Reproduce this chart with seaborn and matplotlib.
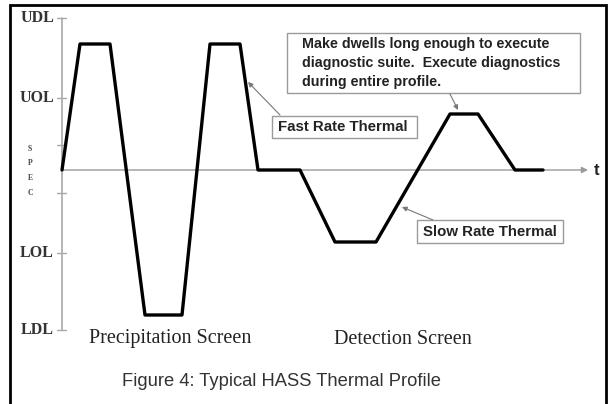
import numpy as np
import pandas as pd
import matplotlib
matplotlib.use('Agg')
import matplotlib.pyplot as plt
from matplotlib.patches import Rectangle
import seaborn as sns

# thermal profile (time in arbitrary units, temperature relative to spec)
time = [0, 18, 48, 83, 120, 148, 178, 196, 238, 273, 314, 388, 416, 453, 481]
temp = [0, 126, 126, -145, -145, 126, 126, 0, 0, -72, -72, 56, 56, 0, 0]

# limit levels on the temperature axis
level_names = ['UDL', 'UOL', 'LOL', 'LDL']
level_values = [152, 72, -83, -160]
spec_ticks = [25, -23]
spec_letters = ['S', 'P', 'E', 'C']

df = pd.DataFrame({'time': time, 'temp': temp})

sns.set_style('white')
plt.rcParams['font.family'] = ['Liberation Sans', 'DejaVu Sans']

fig = plt.figure(figsize=(6.10, 4.04), dpi=100)
ax = fig.add_axes([0, 0, 1, 1])
ax.set_xlim(-62, 548)
ax.set_ylim(-234, 170)
ax.axis('off')

# axes drawn by hand
ax.plot([0, 0], [level_values[0], level_values[-1]], color='#a8a8a8', lw=1.2, zorder=1)
ax.annotate('', xy=(526, 0), xytext=(0, 0),
            arrowprops=dict(arrowstyle='-|>', color='#9a9a9a', lw=1.0, mutation_scale=9,
                            shrinkA=0, shrinkB=0), zorder=1)
ax.text(532, 0, 't', fontsize=12, fontweight='bold', va='center', ha='left', color='#222222')

for name, v in zip(level_names, level_values):
    ax.plot([-5, 4], [v, v], color='#a8a8a8', lw=1.0)
    ax.text(-8, v, name, fontsize=11.5, fontweight='bold', family='Liberation Serif',
            ha='right', va='center', color='#333333')
for v in spec_ticks:
    ax.plot([-5, 4], [v, v], color='#a8a8a8', lw=1.0)
spec_y = [21, 7, -8, -23]
for letter, y in zip(spec_letters, spec_y):
    ax.text(-32, y, letter, fontsize=5.5, fontweight='bold', family='Liberation Serif',
            ha='center', va='center', color='#444444')

# the profile
sns.lineplot(data=df, x='time', y='temp', color='black', lw=2.4, ax=ax, zorder=3)

# phase labels
ax.text(108, -169, 'Precipitation Screen', fontsize=14.5, family='Liberation Serif',
        ha='center', va='center', color='#222222')
ax.text(341, -169, 'Detection Screen', fontsize=14.5, family='Liberation Serif',
        ha='center', va='center', color='#222222')

# call-out boxes
box_kw = dict(fill=True, facecolor='white', edgecolor='#9a9a9a', lw=1.0, zorder=4)
ax.add_patch(Rectangle((225, 77), 293, 60, **box_kw))
ax.text(240, 133, 'Make dwells long enough to execute\ndiagnostic suite.  Execute diagnostics\nduring entire profile.',
        fontsize=10.3, fontweight='bold', ha='left', va='top', linespacing=1.45,
        color='#222222', zorder=5)

ax.add_patch(Rectangle((210, 32), 145, 22, **box_kw))
ax.text(216, 43, 'Fast Rate Thermal', fontsize=10.8, fontweight='bold', ha='left',
        va='center', color='#222222', zorder=5)

ax.add_patch(Rectangle((355, -73), 146, 23, **box_kw))
ax.text(361, -62, 'Slow Rate Thermal', fontsize=10.8, fontweight='bold', ha='left',
        va='center', color='#222222', zorder=5)

arrow_kw = dict(arrowstyle='-|>', color='#777777', lw=0.8, mutation_scale=7,
                shrinkA=0, shrinkB=0)
ax.annotate('', xy=(396, 60), xytext=(388, 76), arrowprops=arrow_kw, zorder=4)
ax.annotate('', xy=(186, 88), xytext=(218, 55), arrowprops=arrow_kw, zorder=4)
ax.annotate('', xy=(340, -37), xytext=(371, -50), arrowprops=arrow_kw, zorder=4)

# caption
ax.text(219, -211, 'Figure 4: Typical HASS Thermal Profile', fontsize=13.2,
        ha='center', va='center', color='#333333')

# outer frame
fig.add_artist(Rectangle((10 / 610, -0.02), 596 / 610, 1.02 - 5 / 404,
                         transform=fig.transFigure, fill=False, edgecolor='black', lw=2.0))

fig.savefig('out.png', dpi=100)
